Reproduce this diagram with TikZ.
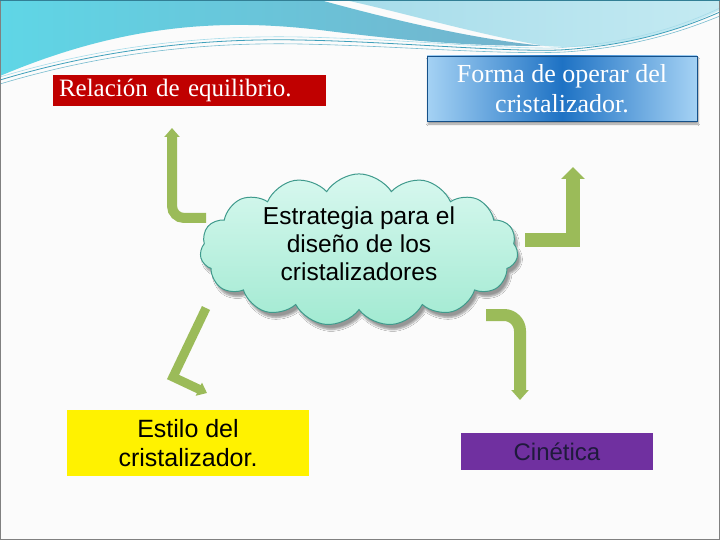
\documentclass[tikz,border=0pt]{standalone}
\usepackage{fontspec}
\setmainfont{Liberation Serif}
\newfontfamily\arialf{Liberation Sans}
\usetikzlibrary{shapes.symbols,arrows.meta,shadows.blur}
\definecolor{arrowgreen}{HTML}{9BBB59}
\definecolor{eqred}{HTML}{C00000}
\definecolor{cinpurple}{HTML}{7030A0}
\definecolor{cloudtop}{HTML}{D8F8EF}
\definecolor{cloudbot}{HTML}{A2EAD2}
\definecolor{cloudline}{HTML}{3F9A8C}
\definecolor{bluemid}{HTML}{1E72C4}
\definecolor{blueedge}{HTML}{A5D2F4}
\definecolor{tealA}{HTML}{5FD6E6}
\definecolor{tealB}{HTML}{74B2CC}
\definecolor{tealC}{HTML}{A6DCEA}
\definecolor{tealD}{HTML}{C4EAF2}
\definecolor{tealline}{HTML}{3E9FBA}
\definecolor{cintext}{HTML}{1F1A3C}
\tikzset{
  garrow/.style={draw=arrowgreen, line width=10pt, line join=miter, -{Triangle[width=15pt,length=9pt]}},
  sansbox/.style={inner sep=0pt, align=center, font=\arialf\fontsize{25}{29}\selectfont},
  serifbox/.style={inner sep=0pt, align=center, font=\fontsize{26}{30}\selectfont, text=white}
}
\begin{document}
\begin{tikzpicture}[x=1pt,y=-1pt]
\useasboundingbox (0,0) rectangle (720,540);
% background
\fill[white!97!gray] (0,0) rectangle (720,540);
% top decoration
\shade[left color=tealA, right color=tealB]
  (0,0) -- (320,0) .. controls (400,22) and (480,40) .. (545,46)
  .. controls (460,46) and (400,40) .. (320,30)
  .. controls (220,18) and (120,25) .. (0,76) -- cycle;
\shade[left color=tealC, right color=tealD]
  (345,0) -- (720,0) -- (720,10) .. controls (660,40) and (600,50) .. (545,46)
  .. controls (480,35) and (400,12) .. (345,0) -- cycle;
\draw[tealline, line width=0.8pt] (0,80) .. controls (100,50) and (200,38) .. (300,40)
  .. controls (400,42) and (500,52) .. (560,50) .. controls (640,45) and (690,25) .. (720,12);
\draw[tealline!70, line width=0.6pt] (0,84) .. controls (100,54) and (200,42) .. (300,44)
  .. controls (400,46) and (500,55) .. (565,52) .. controls (640,47) and (690,28) .. (720,16);
\draw[tealC, line width=0.6pt] (0,77) .. controls (100,47) and (200,35) .. (300,37)
  .. controls (400,39) and (500,49) .. (555,48) .. controls (640,43) and (690,22) .. (720,8);
% slide border
\draw[gray, line width=1pt] (0.5,0.5) rectangle (719.5,539.5);
\draw[tealline!80!black, line width=1pt] (0,0.5) -- (720,0.5);

% nodes
\node[fill=eqred, text=white, inner sep=0pt, minimum height=31pt, text width=261pt, align=left,
      font=\fontsize{25}{28}\selectfont, inner xsep=6pt] (eq) at (189.5,90.5) {Relación de equilibrio.};
\node[serifbox, draw=bluemid!70!black, line width=0.8pt, left color=blueedge, right color=blueedge, middle color=bluemid,
      minimum width=270pt, minimum height=65pt, blur shadow={shadow xshift=1pt, shadow yshift=-3pt, shadow blur steps=6}] (op) at (562,88.5)
      {Forma de operar del\\cristalizador.};
\node[cloud, cloud puffs=15, cloud puff arc=115, aspect=2.3, draw=cloudline, line width=1pt,
      top color=cloudtop, bottom color=cloudbot, minimum width=318pt, minimum height=152pt,
      inner sep=0pt, align=center, font=\arialf\fontsize{24.5}{28}\selectfont, text depth=13pt,
      blur shadow={shadow xshift=3pt, shadow yshift=-5pt, shadow blur steps=6}] (cl) at (359,250)
      {Estrategia para el\\diseño de los\\cristalizadores};
\node[sansbox, fill=yellow, minimum width=242pt, minimum height=66pt] (es) at (188,443)
      {Estilo del\\cristalizador.};
\node[sansbox, fill=cinpurple, text=cintext, minimum width=192pt, minimum height=37pt,
      font=\arialf\fontsize{24}{28}\selectfont] (ci) at (557,451.5)
      {Cinética};

% connector coordinates
\coordinate (a1s) at (206,218); \coordinate (a1c) at (172,218); \coordinate (a1e) at (172,128);
\coordinate (a2s) at (525,240); \coordinate (a2c) at (573,240); \coordinate (a2e) at (573,167);
\coordinate (a3s) at (206,308); \coordinate (a3c) at (173,377); \coordinate (a3e) at (207,393);
\coordinate (a4s) at (486,315); \coordinate (a4c) at (520,315); \coordinate (a4e) at (520,400);

\draw[garrow, rounded corners=12pt] (a1s) -- (a1c) -- (a1e);
\draw[garrow, line width=14pt, -{Triangle[width=23pt,length=12pt]}] (a2s) -- (a2c) -- (a2e);
\draw[garrow, line width=9pt, -{Triangle[width=14pt,length=9pt]}] (a3s) -- (a3c) -- (a3e);
\draw[garrow, line width=12pt, rounded corners=16pt, -{Triangle[width=17pt,length=10pt]}] (a4s) -- (a4c) -- (a4e);
\end{tikzpicture}
\end{document}
